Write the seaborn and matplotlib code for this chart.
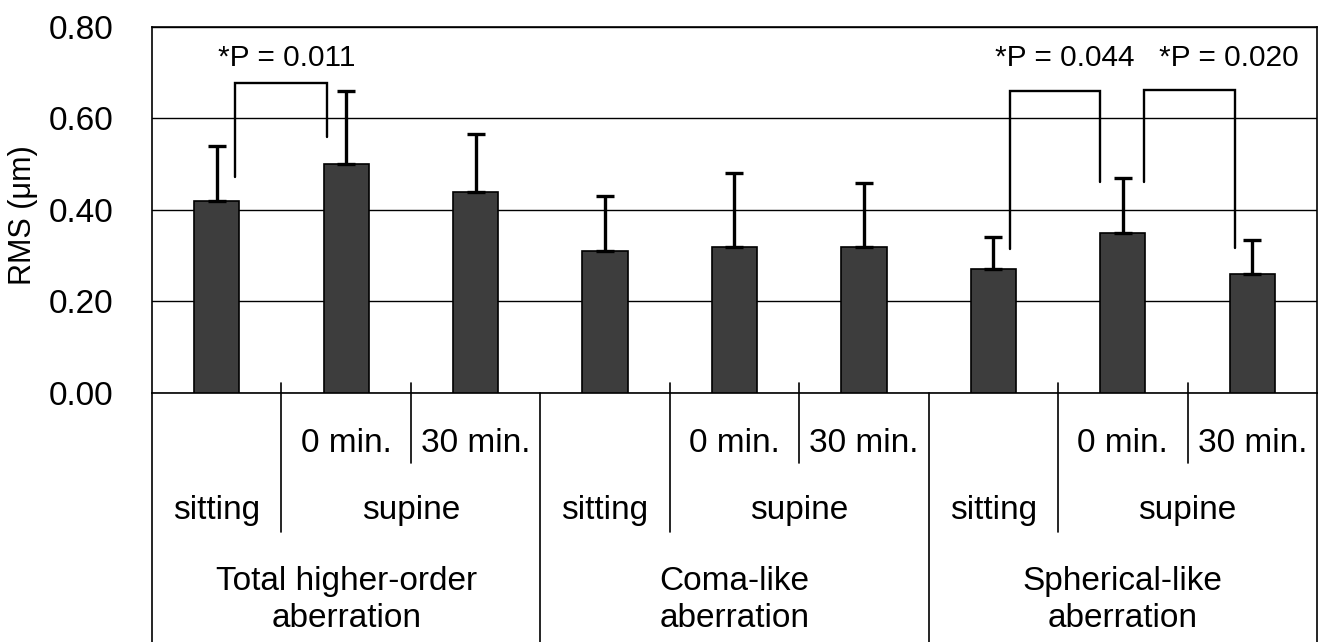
import numpy as np
import pandas as pd
import matplotlib
matplotlib.use("Agg")
import matplotlib.pyplot as plt
import matplotlib.transforms as mtransforms
import seaborn as sns

# Wavefront RMS by posture, mean with upper SD
groups = ["Total higher-order\naberration", "Coma-like\naberration", "Spherical-like\naberration"]
postures = ["sitting", "supine", "supine"]
times = ["", "0 min.", "30 min."]
means = [0.42, 0.50, 0.44, 0.31, 0.32, 0.32, 0.27, 0.35, 0.26]
sds = [0.12, 0.16, 0.125, 0.12, 0.16, 0.14, 0.07, 0.12, 0.075]
p_labels = ["*P = 0.011", "*P = 0.044", "*P = 0.020"]
p_pairs = [(0, 1), (6, 7), (7, 8)]
y_ticks = [0.00, 0.20, 0.40, 0.60, 0.80]

sns.set_theme(style="white")
plt.rcParams["font.family"] = ["Liberation Sans", "DejaVu Sans"]
plt.rcParams.update({"text.color": "black", "axes.labelcolor": "black",
                     "ytick.color": "black", "xtick.color": "black"})

cells = [f"{g}|{t or p}" for g in groups for p, t in zip(postures, times)]
df = pd.DataFrame({"cell": cells, "rms": means})

fig, ax = plt.subplots(figsize=(13.24, 6.42), dpi=100)
fig.subplots_adjust(left=0.1148, right=0.9947, bottom=0.3879, top=0.958)

sns.barplot(data=df, x="cell", y="rms", order=cells, color="#3d3d3d",
            saturation=1, width=0.35, edgecolor="black", linewidth=1.2,
            errorbar=None, ax=ax, zorder=3)
xpos = np.arange(len(means))
ax.errorbar(xpos, means, yerr=[np.zeros(len(sds)), sds], fmt="none",
            ecolor="black", elinewidth=2.4, capsize=6.5, capthick=2.4, zorder=4)

ax.set_xlim(-0.5, len(means) - 0.5)
ax.set_ylim(0, 0.80)
ax.set_yticks(y_ticks)
ax.set_yticklabels([f"{v:.2f}" for v in y_ticks], fontsize=24, color="black")
ax.tick_params(axis="y", length=0, pad=28)
ax.set_xticks([])
ax.set_xlabel("")
ax.set_ylabel("RMS (μm)", fontsize=22, color="black")
ax.yaxis.set_label_coords(-0.098, 0.486)
ax.set_axisbelow(True)
ax.yaxis.grid(True, color="black", lw=1)
for s in ax.spines.values():
    s.set_color("black")
    s.set_linewidth(1.2)

# significance brackets
bracket_geom = [
    # (left offset, right offset, top, left leg end, right leg end)
    (0.14, -0.15, 0.678, 0.472, 0.559),
    (0.13, -0.18, 0.661, 0.315, 0.461),
    (0.16, -0.13, 0.662, 0.461, 0.317),
]
text_x = [0.54, 6.55, 7.82]
for (i, j), lab, (dl, dr, top, yl, yr), tx in zip(p_pairs, p_labels, bracket_geom, text_x):
    xl, xr = i + dl, j + dr
    ax.plot([xl, xl, xr, xr], [yl, top, top, yr], color="black", lw=1.7,
            solid_joinstyle="miter", zorder=5)
    ax.text(tx, 0.733, lab, ha="center", va="center", fontsize=21.5,
            color="black", zorder=6)

# category table under the axis
trans = mtransforms.blended_transform_factory(ax.transData, ax.transAxes)
lkw = dict(color="black", lw=1.2, transform=trans, clip_on=False)
tkw = dict(transform=trans, ha="center", va="center", fontsize=24, color="black")
n_g = len(groups)
for k in range(n_g + 1):
    x = -0.5 + 3 * k
    ax.plot([x, x], [0, -0.72], **lkw)
for k, g in enumerate(groups):
    base = 3 * k
    ax.plot([base + 0.5, base + 0.5], [0.027, -0.380], **lkw)
    ax.plot([base + 1.5, base + 1.5], [0.027, -0.191], **lkw)
    for m in range(3):
        if times[m]:
            ax.text(base + m, -0.137, times[m], **tkw)
    ax.text(base, -0.322, postures[0], **tkw)
    ax.text(base + 1.5, -0.322, postures[1], **tkw)
    ax.text(base + 1, -0.566, g, linespacing=1.22, **tkw)

fig.savefig("out.png", dpi=100)
